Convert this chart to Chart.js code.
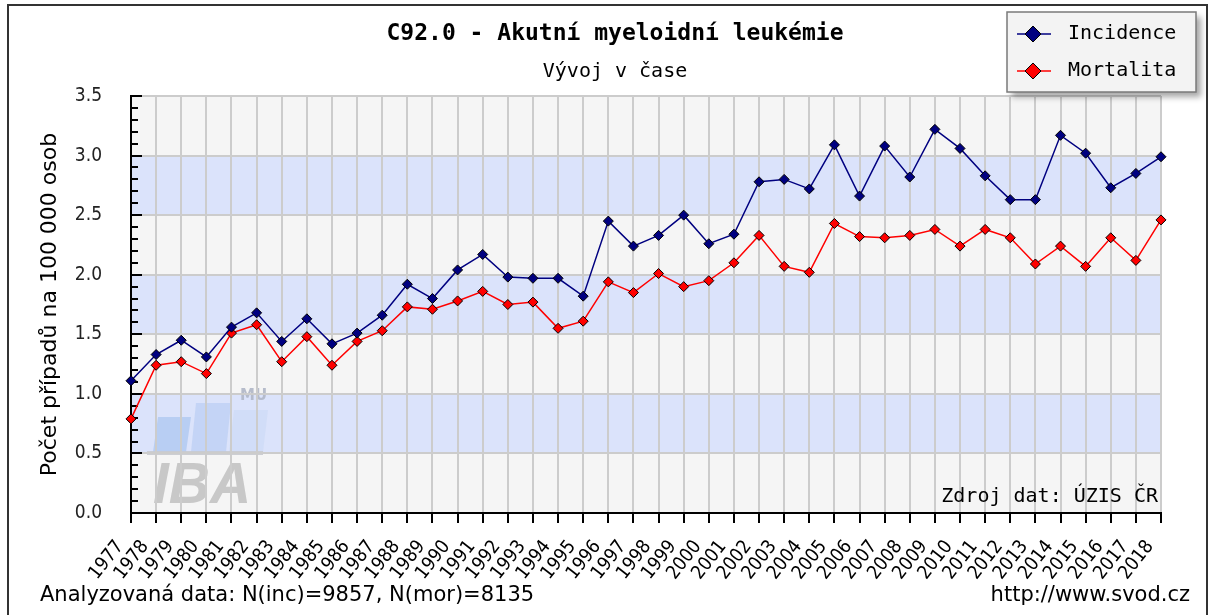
<!DOCTYPE html>
<html lang="cs">
<head>
<meta charset="UTF-8">
<title>C92.0 - Akutní myeloidní leukémie</title>
<script src="https://cdn.jsdelivr.net/npm/chart.js"></script>
<style>
  html, body { margin: 0; padding: 0; background: #fff; }
  #wrap { width: 1211px; height: 615px; }
</style>
</head>
<body>
<div id="wrap"><canvas id="chart" width="1211" height="615"></canvas></div>
<script>
// roky a hodnoty na 100 000 osob
const years = ["1977","1978","1979","1980","1981","1982","1983","1984","1985","1986",
  "1987","1988","1989","1990","1991","1992","1993","1994","1995","1996",
  "1997","1998","1999","2000","2001","2002","2003","2004","2005","2006",
  "2007","2008","2009","2010","2011","2012","2013","2014","2015","2016",
  "2017","2018"];
const incidence = [1.11,1.33,1.45,1.31,1.56,1.68,1.44,1.63,1.42,1.51,
  1.66,1.92,1.80,2.04,2.17,1.98,1.97,1.97,1.82,2.45,
  2.24,2.33,2.50,2.26,2.34,2.78,2.80,2.72,3.09,2.66,
  3.08,2.82,3.22,3.06,2.83,2.63,2.63,3.17,3.02,2.73,
  2.85,2.99];
const mortality = [0.79,1.24,1.27,1.17,1.51,1.58,1.27,1.48,1.24,1.44,
  1.53,1.73,1.71,1.78,1.86,1.75,1.77,1.55,1.61,1.94,
  1.85,2.01,1.90,1.95,2.10,2.33,2.07,2.02,2.43,2.32,
  2.31,2.33,2.38,2.24,2.38,2.31,2.09,2.24,2.07,2.31,
  2.12,2.46];

const title = "C92.0 - Akutní myeloidní leukémie";
const subtitle = "Vývoj v čase";
const yTitle = "Počet případů na 100 000 osob";
const source = "Zdroj dat: ÚZIS ČR";
const footLeft = "Analyzovaná data: N(inc)=9857, N(mor)=8135";
const footRight = "http://www.svod.cz";

const sansC = '"DejaVu Sans Condensed", "DejaVu Sans", sans-serif';
const sans = '"DejaVu Sans", Verdana, sans-serif';
const mono = '"DejaVu Sans Mono", "Liberation Mono", monospace';

function diamond(ctx, x, y, r, fill) {
  ctx.beginPath();
  ctx.moveTo(x, y - r); ctx.lineTo(x + r, y); ctx.lineTo(x, y + r); ctx.lineTo(x - r, y);
  ctx.closePath();
  ctx.fillStyle = fill; ctx.fill();
  ctx.strokeStyle = "#000"; ctx.lineWidth = 1; ctx.stroke();
}

function slantBar(ctx, x0, x1, top, bottom, slant, color) {
  ctx.beginPath();
  ctx.moveTo(x0, bottom); ctx.lineTo(x0 + slant, top);
  ctx.lineTo(x1 + slant, top); ctx.lineTo(x1, bottom);
  ctx.closePath();
  ctx.fillStyle = color; ctx.fill();
}

const decor = {
  id: "decor",
  beforeDraw(chart) {
    const {ctx, chartArea: a, scales: {y}} = chart;
    ctx.save();
    // pruhy pozadi
    for (let i = 0; i < 7; i++) {
      const top = y.getPixelForValue((i + 1) * 0.5), bot = y.getPixelForValue(i * 0.5);
      ctx.fillStyle = i % 2 ? "#dbe3fb" : "#f5f5f5";
      ctx.fillRect(a.left, top, a.right - a.left, bot - top);
    }
    // logo IBA
    slantBar(ctx, 153, 186, 417, 452, 5, "rgba(170,196,240,0.7)");
    slantBar(ctx, 191, 226, 403, 452, 5, "rgba(185,205,242,0.65)");
    slantBar(ctx, 229, 263, 410, 452, 5, "rgba(205,218,246,0.65)");
    ctx.fillStyle = "rgba(200,202,208,0.9)";
    ctx.fillRect(147, 451, 116, 4);
    ctx.font = "bold 15px " + sans;
    ctx.fillStyle = "rgba(175,182,198,0.9)";
    ctx.textBaseline = "middle";
    ctx.fillText("MU", 240, 396);
    ctx.font = "italic bold 57px 'Liberation Sans', Arial, sans-serif";
    ctx.fillStyle = "rgba(192,192,192,0.85)";
    ctx.textBaseline = "alphabetic";
    ctx.fillText("IBA", 153, 503);
    ctx.restore();
  },
  beforeDatasetsDraw(chart) {
    const {ctx, chartArea: a, scales: {y}} = chart;
    ctx.save();
    // vedlejsi znacky osy y dovnitr grafu
    ctx.strokeStyle = "#000"; ctx.lineWidth = 2;
    for (let i = 0; i <= 35; i++) {
      const py = Math.round(y.getPixelForValue(i / 10));
      const len = i % 5 === 0 ? 11 : 7;
      ctx.beginPath(); ctx.moveTo(a.left, py); ctx.lineTo(a.left + len, py); ctx.stroke();
    }
    ctx.font = "20px " + mono;
    ctx.fillStyle = "#000";
    ctx.textAlign = "right"; ctx.textBaseline = "middle";
    ctx.fillText(source, a.right - 3, a.bottom - 16);
    ctx.restore();
  },
  afterDraw(chart) {
    const {ctx} = chart;
    ctx.save();
    // ramecek
    ctx.strokeStyle = "#333"; ctx.lineWidth = 2;
    ctx.strokeRect(8, 5, 1199, 620);
    // nadpisy
    ctx.fillStyle = "#000"; ctx.textAlign = "center"; ctx.textBaseline = "middle";
    ctx.font = "bold 23px " + mono;
    ctx.fillText(title, 615, 34);
    ctx.font = "20px " + mono;
    ctx.fillText(subtitle, 615, 72);
    // paticka
    ctx.font = "21px " + sans;
    ctx.textAlign = "left";
    ctx.fillText(footLeft, 40, 596);
    ctx.textAlign = "right";
    ctx.fillText(footRight, 1190, 596);
    // legenda
    ctx.save();
    ctx.shadowColor = "rgba(0,0,0,0.35)";
    ctx.shadowBlur = 6; ctx.shadowOffsetX = 5; ctx.shadowOffsetY = 5;
    ctx.fillStyle = "#f3f3f3";
    ctx.fillRect(1007, 12, 189, 80);
    ctx.restore();
    ctx.strokeStyle = "#7a7a7a"; ctx.lineWidth = 1.5;
    ctx.strokeRect(1007, 12, 189, 80);
    chart.data.datasets.forEach((ds, i) => {
      const ly = 34 + i * 37;
      ctx.strokeStyle = ds.borderColor; ctx.lineWidth = 1.5;
      ctx.beginPath(); ctx.moveTo(1017, ly); ctx.lineTo(1051, ly); ctx.stroke();
      diamond(ctx, 1033, ly, 8, ds.pointBackgroundColor);
      ctx.fillStyle = "#000"; ctx.textAlign = "left"; ctx.textBaseline = "middle";
      ctx.font = "20px " + mono;
      ctx.fillText(ds.label, 1068, ly);
    });
    ctx.restore();
  }
};

new Chart(document.getElementById("chart"), {
  type: "line",
  data: {
    labels: years,
    datasets: [{
      label: "Incidence",
      data: incidence,
      borderColor: "#000080",
      backgroundColor: "#000080",
      pointBackgroundColor: "#000080",
      pointBorderColor: "#000",
      pointBorderWidth: 1,
      pointStyle: "rectRot",
      pointRadius: 5,
      borderWidth: 1.5,
      clip: false
    }, {
      label: "Mortalita",
      data: mortality,
      borderColor: "#ff0000",
      backgroundColor: "#ff0000",
      pointBackgroundColor: "#ff0000",
      pointBorderColor: "#000",
      pointBorderWidth: 1,
      pointStyle: "rectRot",
      pointRadius: 5,
      borderWidth: 1.5,
      clip: false
    }]
  },
  options: {
    responsive: false,
    animation: false,
    events: [],
    layout: { padding: { left: 0, top: 96, right: 50, bottom: 0 } },
    plugins: { legend: { display: false }, tooltip: { enabled: false }, title: { display: false } },
    scales: {
      x: {
        grid: { color: "#cccccc", lineWidth: 2, tickColor: "#000", tickLength: 10, tickWidth: 2 },
        border: { color: "#000", width: 2 },
        ticks: {
          autoSkip: false, minRotation: 52, maxRotation: 52, padding: 13, labelOffset: -11,
          color: "#000", font: { family: sansC, size: 19 }
        },
        afterFit(s) { s.height = 102; }
      },
      y: {
        min: 0, max: 3.5,
        grid: { color: "#cccccc", lineWidth: 2, drawTicks: false },
        border: { color: "#000", width: 2 },
        ticks: {
          stepSize: 0.5, padding: 29, color: "#222",
          font: { family: sansC, size: 19 },
          callback: v => v.toFixed(1)
        },
        title: {
          display: true, text: yTitle, color: "#000",
          font: { family: sans, size: 22 }, padding: { top: 37 }
        },
        afterFit(s) { s.width = 131; }
      }
    }
  },
  plugins: [decor]
});
</script>
</body>
</html>
